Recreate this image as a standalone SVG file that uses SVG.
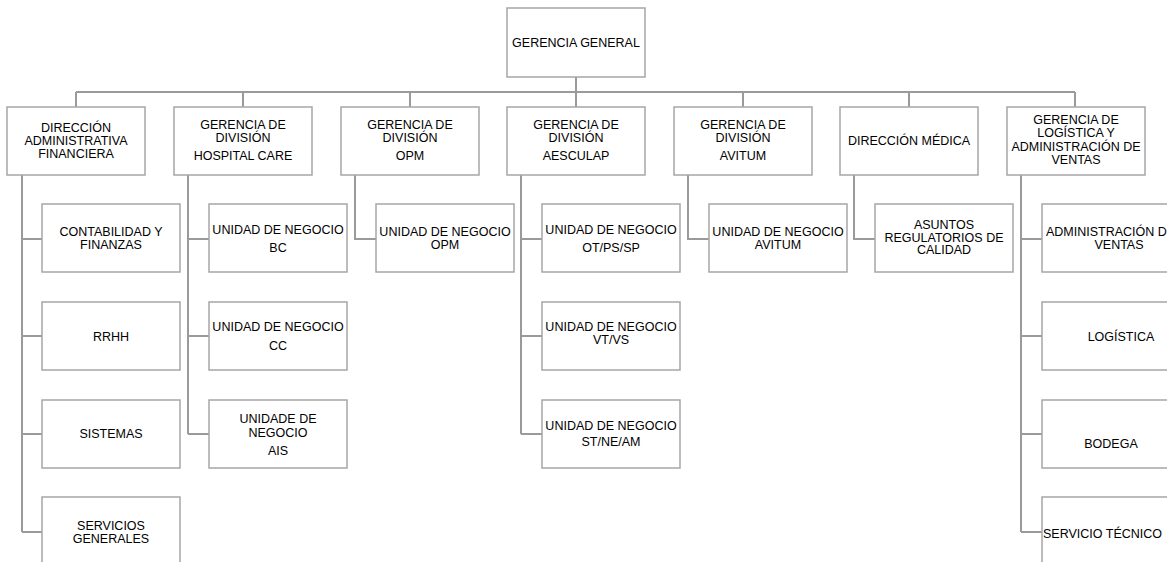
<svg xmlns="http://www.w3.org/2000/svg" width="1167" height="562" viewBox="0 0 1167 562">
<style>
.b{fill:#fff;stroke:#a6a6a6;stroke-width:1.5}
.c{fill:none;stroke:#9a9a9a;stroke-width:2}
text{font-family:"Liberation Sans",Arial,sans-serif;font-size:12.5px;fill:#000;text-anchor:middle}
</style>
<rect width="1167" height="562" fill="#fff"/>
<g id="connectors">
<path class="c" d="M576 77V92M76 92H1075M76 92V107M243 92V107M410 92V107M576 92V107M743 92V107M909 92V107M1075 92V107"/>
<path class="c" d="M22 175V532M22 239H42M22 336H42M22 434H42M22 532H42"/>
<path class="c" d="M188 175V434M188 239H209M188 336H209M188 434H209"/>
<path class="c" d="M355 175V239H376"/>
<path class="c" d="M521 175V434M521 239H542M521 336H542M521 434H542"/>
<path class="c" d="M688 175V239H709"/>
<path class="c" d="M854 175V239H875"/>
<path class="c" d="M1021 175V532M1021 239H1042M1021 336H1042M1021 434H1042M1021 532H1042"/>
</g>
<g id="gerencia-general"><rect class="b" x="507" y="8" width="138" height="69"/><text x="576" y="47">GERENCIA GENERAL</text></g>

<g id="dir-adm-fin"><rect class="b" x="7" y="107" width="138" height="68"/><text x="76" y="132">DIRECCIÓN</text><text x="76" y="145">ADMINISTRATIVA</text><text x="76" y="158">FINANCIERA</text></g>
<g id="ger-hospital-care"><rect class="b" x="174" y="107" width="138" height="68"/><text x="243" y="129">GERENCIA DE</text><text x="243" y="142">DIVISIÓN</text><text x="243" y="160">HOSPITAL CARE</text></g>
<g id="ger-opm"><rect class="b" x="341" y="107" width="138" height="68"/><text x="410" y="129">GERENCIA DE</text><text x="410" y="142">DIVISIÓN</text><text x="410" y="160">OPM</text></g>
<g id="ger-aesculap"><rect class="b" x="507" y="107" width="138" height="68"/><text x="576" y="129">GERENCIA DE</text><text x="576" y="142">DIVISIÓN</text><text x="576" y="160">AESCULAP</text></g>
<g id="ger-avitum"><rect class="b" x="674" y="107" width="138" height="68"/><text x="743" y="129">GERENCIA DE</text><text x="743" y="142">DIVISIÓN</text><text x="743" y="160">AVITUM</text></g>
<g id="dir-medica"><rect class="b" x="840" y="107" width="138" height="68"/><text x="909" y="144.5">DIRECCIÓN MÉDICA</text></g>
<g id="ger-logistica"><rect class="b" x="1007" y="107" width="138" height="68"/><text x="1076" y="124">GERENCIA DE</text><text x="1076" y="137">LOGÍSTICA Y</text><text x="1076" y="151">ADMINISTRACIÓN DE</text><text x="1076" y="164">VENTAS</text></g>

<g id="contabilidad"><rect class="b" x="42" y="204" width="138" height="68"/><text x="111" y="236">CONTABILIDAD Y</text><text x="111" y="249">FINANZAS</text></g>
<g id="rrhh"><rect class="b" x="42" y="302" width="138" height="68"/><text x="111" y="340.5">RRHH</text></g>
<g id="sistemas"><rect class="b" x="42" y="400" width="138" height="68"/><text x="111" y="438">SISTEMAS</text></g>
<g id="servicios-generales"><rect class="b" x="42" y="497" width="138" height="68"/><text x="111" y="529.5">SERVICIOS</text><text x="111" y="543">GENERALES</text></g>

<g id="un-bc"><rect class="b" x="209" y="204" width="138" height="68"/><text x="278" y="233.5">UNIDAD DE NEGOCIO</text><text x="278" y="252">BC</text></g>
<g id="un-cc"><rect class="b" x="209" y="302" width="138" height="68"/><text x="278" y="331">UNIDAD DE NEGOCIO</text><text x="278" y="349.5">CC</text></g>
<g id="un-ais"><rect class="b" x="209" y="400" width="138" height="68"/><text x="278" y="423">UNIDADE DE</text><text x="278" y="437">NEGOCIO</text><text x="278" y="454.5">AIS</text></g>

<g id="un-opm"><rect class="b" x="376" y="204" width="138" height="68"/><text x="445" y="236">UNIDAD DE NEGOCIO</text><text x="445" y="249">OPM</text></g>

<g id="un-ot"><rect class="b" x="542" y="204" width="138" height="68"/><text x="611" y="233.5">UNIDAD DE NEGOCIO</text><text x="611" y="252">OT/PS/SP</text></g>
<g id="un-vt"><rect class="b" x="542" y="302" width="138" height="68"/><text x="611" y="331">UNIDAD DE NEGOCIO</text><text x="611" y="344">VT/VS</text></g>
<g id="un-st"><rect class="b" x="542" y="400" width="138" height="68"/><text x="611" y="429.5">UNIDAD DE NEGOCIO</text><text x="611" y="445.5">ST/NE/AM</text></g>

<g id="un-avitum"><rect class="b" x="709" y="204" width="138" height="68"/><text x="778" y="236">UNIDAD DE NEGOCIO</text><text x="778" y="249">AVITUM</text></g>

<g id="asuntos"><rect class="b" x="875" y="204" width="138" height="68"/><text x="944" y="229">ASUNTOS</text><text x="944" y="241.5">REGULATORIOS DE</text><text x="944" y="254">CALIDAD</text></g>

<g id="adm-ventas"><rect class="b" x="1042" y="204" width="160" height="68"/><text x="1046" y="236" style="text-anchor:start">ADMINISTRACIÓN DE</text><text x="1119" y="249">VENTAS</text></g>
<g id="logistica"><rect class="b" x="1042" y="302" width="160" height="68"/><text x="1121" y="340.5">LOGÍSTICA</text></g>
<g id="bodega"><rect class="b" x="1042" y="400" width="160" height="68"/><text x="1111" y="447.5">BODEGA</text></g>
<g id="servicio-tecnico"><rect class="b" x="1042" y="497" width="160" height="68"/><text x="1043" y="537.5" style="text-anchor:start">SERVICIO TÉCNICO</text></g>
</svg>
